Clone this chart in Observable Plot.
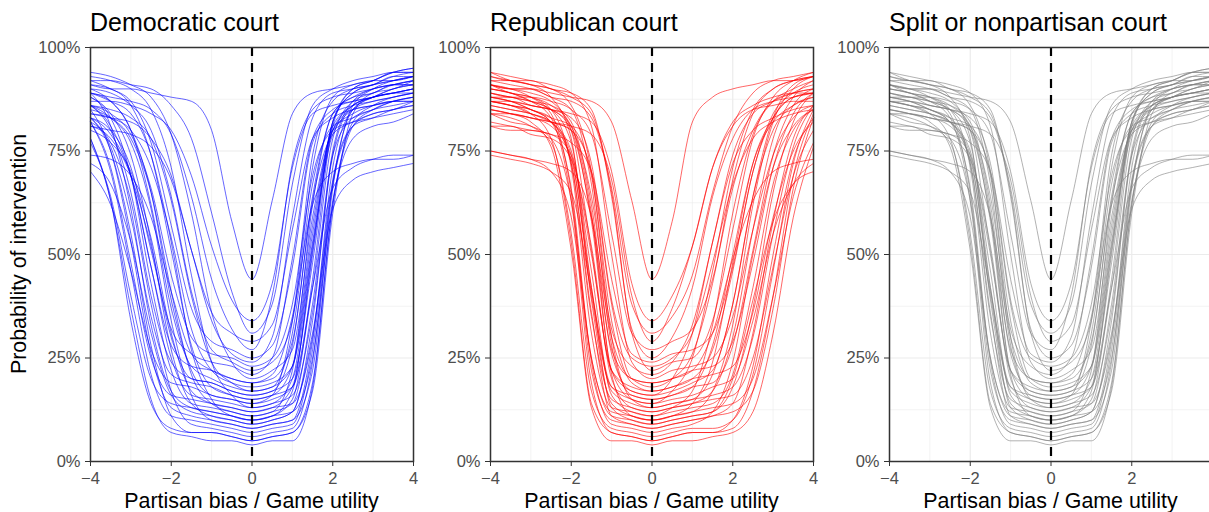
<!DOCTYPE html>
<html>
<head>
<meta charset="utf-8">
<script src="https://cdn.jsdelivr.net/npm/d3@7"></script>
<script src="https://cdn.jsdelivr.net/npm/@observablehq/plot@0.6"></script>
<style>
  html, body { margin: 0; padding: 0; background: #fff; }
  #wrap { position: relative; width: 1209px; height: 512px; overflow: hidden; background: #fff;
          font-family: "Liberation Sans", Arial, sans-serif; }
  .panel { position: absolute; top: 0; }
  #labels { position: absolute; left: 0; top: 0; pointer-events: none; }
</style>
</head>
<body>
<div id="wrap"></div>
<script>
// ---------- data (percent values) ----------
const xGrid = [-4,-3.5,-3,-2.5,-2,-1.5,-1,-0.5,0,0.5,1,1.5,2,2.5,3,3.5,4];

const demCurves = [
[91,90,90,89,88,87,80,58,44,63,84,89,90,91,92,92,93],
[87,87,86,84,80,69,52,39,34,43,71,84,86,87,88,89,89],
[92,92,91,90,86,78,60,41,31,38,67,86,90,92,93,94,94],
[84,83,82,78,69,51,36,31,29,33,56,78,83,85,86,87,87],
[89,88,87,85,79,64,44,32,27,40,72,85,88,89,90,91,91],
[92,90,87,77,57,37,29,27,25,28,47,77,84,86,87,88,89],
[81,80,79,76,68,51,34,26,24,30,59,83,89,90,91,92,93],
[86,84,79,66,45,30,26,25,23,25,38,69,80,82,83,84,85],
[90,89,86,80,64,41,27,24,22,24,34,71,88,91,92,94,94],
[83,80,71,51,32,26,24,23,21,25,49,78,85,87,88,89,90],
[94,93,91,88,79,60,36,24,20,22,27,59,80,84,86,87,87],
[74,73,69,59,41,26,22,20,19,21,35,62,70,72,73,73,74],
[86,81,69,47,28,23,22,20,19,20,29,64,84,88,89,91,91],
[84,83,80,71,54,32,22,19,18,19,23,53,82,89,91,92,93],
[90,87,80,62,37,23,20,18,17,18,31,67,81,83,85,86,87],
[86,85,83,78,63,40,24,19,17,18,23,55,81,86,88,89,90],
[86,80,65,40,24,20,19,17,16,17,20,48,82,90,92,94,95],
[81,78,69,52,30,20,19,17,16,17,28,63,79,82,84,85,86],
[91,90,86,74,51,28,18,16,15,16,18,42,78,87,89,91,92],
[83,76,59,35,21,19,18,16,15,16,23,57,80,85,86,87,88],
[70,62,46,27,19,18,16,15,14,15,18,42,66,71,73,74,74],
[89,87,80,65,39,22,16,15,14,16,34,74,87,90,91,93,93],
[83,79,69,47,25,16,15,14,13,14,16,36,74,86,88,90,91],
[93,92,90,85,71,45,24,16,13,14,20,52,79,85,87,88,89],
[82,71,48,25,16,15,14,13,12,13,18,50,82,89,91,93,94],
[80,77,70,54,31,17,14,13,12,13,14,30,68,81,83,85,86],
[88,83,69,43,22,14,13,12,11,12,22,62,84,88,90,91,92],
[85,83,78,65,41,21,14,12,11,12,14,38,74,83,85,87,88],
[89,81,61,33,17,13,12,11,10,11,15,44,81,90,92,94,95],
[89,87,84,74,53,27,15,11,10,11,12,25,63,78,81,82,84],
[77,64,40,20,14,13,12,11,10,11,17,51,80,86,88,89,90],
[88,84,74,53,27,14,11,10,9,10,12,34,75,87,90,91,92],
[72,67,53,31,16,12,11,10,9,10,12,31,61,68,70,71,72],
[85,75,53,26,13,11,10,9,8,9,10,29,71,85,88,89,90],
[86,83,77,61,34,16,10,9,8,9,10,22,66,86,90,92,93],
[82,70,46,21,11,10,9,8,7,8,9,27,67,81,84,85,87],
[82,77,63,38,17,9,8,7,6,7,8,24,67,85,88,90,91],
[78,63,34,14,8,7,7,6,5,6,7,19,62,81,85,87,88],
[83,75,55,28,11,7,7,6,5,6,7,17,60,84,89,90,92],
[78,63,37,15,7,6,5,5,4,5,5,18,62,82,86,88,89]
];

const repCurves = [
[91,90,90,89,88,87,82,63,44,58,82,88,90,91,92,92,93],
[87,87,86,85,84,82,70,43,34,40,52,71,82,86,88,89,89],
[92,92,91,90,88,84,66,38,31,35,45,65,81,89,92,93,94],
[84,84,83,82,81,79,68,40,29,37,52,71,81,85,86,87,87],
[89,88,88,87,85,79,55,31,27,29,32,44,66,80,87,89,90],
[93,92,92,90,89,85,64,32,25,30,42,64,78,85,87,88,89],
[81,80,80,79,77,70,44,26,24,26,27,31,47,70,84,89,91],
[88,87,86,85,83,72,39,25,23,25,31,48,67,78,82,84,85],
[91,90,90,88,87,83,65,31,22,24,25,34,56,78,88,92,94],
[86,85,84,82,80,64,32,23,21,24,33,53,74,84,87,89,90],
[94,93,92,91,89,81,50,24,20,22,23,25,35,56,74,83,86],
[75,74,73,72,70,59,30,20,19,20,22,31,49,63,70,72,73],
[88,88,86,85,80,59,27,20,19,20,22,23,29,48,71,84,89],
[85,84,83,82,80,70,38,20,18,20,26,43,68,84,90,92,93],
[91,90,89,87,80,51,22,18,17,18,20,21,23,36,59,75,82],
[87,86,85,83,81,69,34,19,17,18,20,27,46,70,83,88,89],
[89,88,87,86,82,62,26,17,16,17,19,22,38,64,83,91,93],
[82,81,80,79,74,50,22,17,16,20,31,53,72,80,83,85,86],
[92,91,90,88,85,67,28,16,15,16,18,19,28,51,74,86,90],
[87,86,85,82,74,40,18,16,15,16,18,28,50,72,82,86,88],
[74,73,72,70,65,41,18,15,14,15,16,18,20,34,55,67,72],
[90,89,88,86,81,58,22,15,14,17,25,46,71,85,90,92,93],
[85,84,83,81,73,42,17,14,13,14,15,16,18,30,55,76,86],
[93,92,91,90,86,70,30,15,13,14,15,21,38,64,80,86,88],
[88,87,85,83,72,35,15,13,12,13,14,17,30,56,78,88,92],
[81,81,79,78,73,52,20,13,12,13,14,15,16,25,47,69,80],
[91,89,88,85,71,31,13,12,11,13,17,33,60,79,87,90,92],
[86,85,84,82,75,46,16,12,11,12,13,14,21,42,67,80,85],
[94,92,91,88,78,39,14,11,10,11,12,17,33,62,82,90,93],
[89,88,87,85,81,60,21,11,10,11,12,13,14,20,40,64,77],
[84,82,81,78,63,25,12,11,10,11,14,24,48,72,83,88,89],
[90,89,87,85,77,42,13,10,9,10,11,12,18,37,65,82,89],
[75,74,73,70,59,25,11,10,9,10,11,12,20,39,58,67,70],
[91,90,88,84,65,22,10,9,8,9,10,11,14,31,58,78,86],
[87,86,84,82,72,36,11,9,8,9,10,11,12,17,37,66,83],
[88,87,85,82,66,24,9,8,7,8,9,12,24,50,71,81,85],
[84,83,81,77,55,17,8,7,6,7,8,8,10,21,46,72,85],
[90,89,87,83,63,19,7,6,5,6,7,7,10,23,50,73,83],
[87,86,84,78,53,14,7,6,5,6,7,7,8,17,40,69,84],
[85,84,82,76,51,13,5,5,4,5,5,6,7,12,31,59,76]
];

const splitCurves = [
[91,90,90,89,88,87,82,63,44,63,84,89,90,91,92,92,93],
[87,87,86,85,84,82,70,43,34,43,71,84,86,87,88,89,89],
[92,92,91,90,88,84,66,38,31,38,67,86,90,92,93,94,94],
[84,84,83,82,81,79,68,40,29,33,56,78,83,85,86,87,87],
[89,88,88,87,85,79,55,31,27,40,72,85,88,89,90,91,91],
[93,92,92,90,89,85,64,32,25,28,47,77,84,86,87,88,89],
[81,80,80,79,77,70,44,26,24,30,59,83,89,90,91,92,93],
[88,87,86,85,83,72,39,25,23,25,38,69,80,82,83,84,85],
[91,90,90,88,87,83,65,31,22,24,34,71,88,91,92,94,94],
[86,85,84,82,80,64,32,23,21,25,49,78,85,87,88,89,90],
[94,93,92,91,89,81,50,24,20,22,27,59,80,84,86,87,87],
[75,74,73,72,70,59,30,20,19,21,35,62,70,72,73,73,74],
[88,88,86,85,80,59,27,20,19,20,29,64,84,88,89,91,91],
[85,84,83,82,80,70,38,20,18,19,23,53,82,89,91,92,93],
[91,90,89,87,80,51,22,18,17,18,31,67,81,83,85,86,87],
[87,86,85,83,81,69,34,19,17,18,23,55,81,86,88,89,90],
[89,88,87,86,82,62,26,17,16,17,20,48,82,90,92,94,95],
[82,81,80,79,74,50,22,17,16,17,28,63,79,82,84,85,86],
[92,91,90,88,85,67,28,16,15,16,18,42,78,87,89,91,92],
[87,86,85,82,74,40,18,16,15,16,23,57,80,85,86,87,88],
[74,73,72,70,65,41,18,15,14,15,18,42,66,71,73,74,74],
[90,89,88,86,81,58,22,15,14,16,34,74,87,90,91,93,93],
[85,84,83,81,73,42,17,14,13,14,16,36,74,86,88,90,91],
[93,92,91,90,86,70,30,15,13,14,20,52,79,85,87,88,89],
[88,87,85,83,72,35,15,13,12,13,18,50,82,89,91,93,94],
[81,81,79,78,73,52,20,13,12,13,14,30,68,81,83,85,86],
[91,89,88,85,71,31,13,12,11,12,22,62,84,88,90,91,92],
[86,85,84,82,75,46,16,12,11,12,14,38,74,83,85,87,88],
[94,92,91,88,78,39,14,11,10,11,15,44,81,90,92,94,95],
[89,88,87,85,81,60,21,11,10,11,12,25,63,78,81,82,84],
[84,82,81,78,63,25,12,11,10,11,17,51,80,86,88,89,90],
[90,89,87,85,77,42,13,10,9,10,12,34,75,87,90,91,92],
[75,74,73,70,59,25,11,10,9,10,12,31,61,68,70,71,72],
[91,90,88,84,65,22,10,9,8,9,10,29,71,85,88,89,90],
[87,86,84,82,72,36,11,9,8,9,10,22,66,86,90,92,93],
[88,87,85,82,66,24,9,8,7,8,9,27,67,81,84,85,87],
[84,83,81,77,55,17,8,7,6,7,8,24,67,85,88,90,91],
[90,89,87,83,63,19,7,6,5,6,7,19,62,81,85,87,88],
[87,86,84,78,53,14,7,6,5,6,7,17,60,84,89,90,92],
[85,84,82,76,51,13,5,5,4,5,5,18,62,82,86,88,89]
];

const panelTitles = ["Democratic court", "Republican court", "Split or nonpartisan court"];
const panelColors = ["#0000FF", "#FF0000", "#7F7F7F"];
const xTicks = [-4, -2, 0, 2, 4];
const xMinorTicks = [-3, -1, 1, 3];
const yTicks = [0, 25, 50, 75, 100];
const yMinorTicks = [12.5, 37.5, 62.5, 87.5];
const xAxisTitle = "Partisan bias / Game utility";
const yAxisTitle = "Probability of intervention";
const cutoff = 0;

// ---------- layout ----------
const FONT = "'Liberation Sans', Arial, Helvetica, sans-serif";
const layout = [
  {left: 0,   width: 420, ml: 90, mr: 7, lastTickShown: true},
  {left: 420, width: 400, ml: 70, mr: 7, lastTickShown: true},
  {left: 820, width: 392, ml: 69, mr: 0, lastTickShown: false}  // right edge falls outside the image
];
const MT = 47, MB = 51, H = 512;
const allCurves = [demCurves, repCurves, splitCurves];

function toRows(curves) {
  return curves.flatMap((c, i) => c.map((y, j) => ({id: i, x: xGrid[j], y})));
}

const wrap = document.getElementById("wrap");

allCurves.forEach((curves, k) => {
  const L = layout[k];
  const shownTicks = L.lastTickShown ? xTicks : xTicks.slice(0, -1);
  const chart = Plot.plot({
    width: L.width,
    height: H,
    marginLeft: L.ml,
    marginRight: L.mr,
    marginTop: MT,
    marginBottom: MB,
    x: {domain: [-4, 4]},
    y: {domain: [0, 100]},
    style: {background: "transparent", fontFamily: FONT},
    marks: [
      Plot.ruleX(xMinorTicks, {stroke: "#EBEBEB", strokeWidth: 0.6}),
      Plot.ruleY(yMinorTicks, {stroke: "#EBEBEB", strokeWidth: 0.6}),
      Plot.ruleX(xTicks, {stroke: "#EBEBEB", strokeWidth: 1.2}),
      Plot.ruleY(yTicks, {stroke: "#EBEBEB", strokeWidth: 1.2}),
      Plot.line(toRows(curves), {
        x: "x", y: "y", z: "id",
        stroke: panelColors[k], strokeOpacity: 0.6, strokeWidth: 1,
        curve: "monotone-x"
      }),
      Plot.ruleX([cutoff], {stroke: "#000", strokeWidth: 2.2, strokeDasharray: "9,7"}),
      Plot.frame({stroke: "#333333", strokeWidth: 1.5}),
      Plot.axisX(shownTicks, {
        tickSize: 5, tickPadding: 6, fontSize: 16.5,
        stroke: "#333333", fill: "#4D4D4D", label: null
      }),
      Plot.axisY(yTicks, {
        tickSize: 5, tickPadding: 5, fontSize: 16.5,
        stroke: "#333333", fill: "#4D4D4D", label: null,
        tickFormat: d => d + "%"
      })
    ]
  });
  chart.classList.add("panel");
  chart.style.left = L.left + "px";
  chart.style.maxWidth = "none";
  wrap.appendChild(chart);
});

// ---------- titles & axis titles as real text ----------
const NS = "http://www.w3.org/2000/svg";
const svg = document.createElementNS(NS, "svg");
svg.setAttribute("id", "labels");
svg.setAttribute("width", 1209);
svg.setAttribute("height", 512);
function addText(str, attrs) {
  const t = document.createElementNS(NS, "text");
  for (const [a, v] of Object.entries(attrs)) t.setAttribute(a, v);
  t.setAttribute("font-family", FONT);
  t.textContent = str;
  svg.appendChild(t);
}
layout.forEach((L, k) => {
  const x0 = L.left + L.ml;
  const x1 = L.left + L.width - L.mr;
  addText(panelTitles[k], {x: x0, y: 31, "font-size": 25, fill: "#000"});
  addText(xAxisTitle, {x: (x0 + x1) / 2, y: 508, "font-size": 21.4, fill: "#000", "text-anchor": "middle"});
});
addText(yAxisTitle, {x: 0, y: 0, "font-size": 21.4, fill: "#000", "text-anchor": "middle",
  transform: "translate(25.5,254) rotate(-90)"});
wrap.appendChild(svg);
</script>
</body>
</html>
